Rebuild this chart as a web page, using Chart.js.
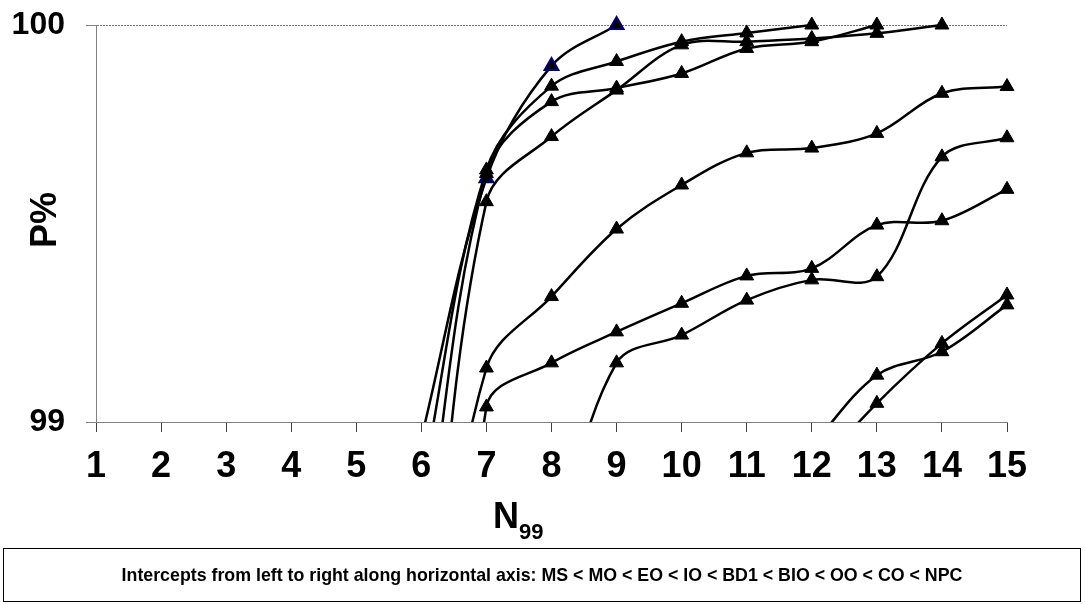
<!DOCTYPE html>
<html>
<head>
<meta charset="utf-8">
<script src="https://cdn.jsdelivr.net/npm/chart.js@4.4.1/dist/chart.umd.min.js"></script>
<style>
  body { margin: 0; background: #fff; }
  #wrap { position: relative; width: 1085px; height: 604px; }
  #note {
    position: absolute; left: 3px; top: 548px; width: 1078px; height: 54px;
    box-sizing: border-box; border: 1.5px solid #000;
    display: flex; align-items: center; justify-content: center;
    font: bold 17.8px Arial, "Liberation Sans", sans-serif; color: #000;
  }
</style>
</head>
<body>
<div id="wrap">
  <canvas id="chart" width="1085" height="604"></canvas>
  <div id="note">Intercepts from left to right along horizontal axis: MS &lt; MO &lt; EO &lt; IO &lt; BD1 &lt; BIO &lt; OO &lt; CO &lt; NPC</div>
</div>
<script>
// === Données (P% par N99) ===
const nLabels = ['1', '2', '3', '4', '5', '6', '7', '8', '9', '10', '11', '12', '13', '14', '15'];
const yTicks = [99, 100];

// points under 99 sit outside the plot; they only set where the curves cross the axis
const msVals  = [null, null, null, null, null, 98.96, 99.614, 99.897, 100, null, null, null, null, null, null];
const moVals  = [null, null, null, null, null, 98.83, 99.635, 99.846, 99.908, 99.958, 99.980, 100, null, null, null];
const eoVals  = [null, null, null, null, null, 98.6, 99.626, 99.807, 99.841, 99.878, 99.941, 99.958, 100, null, null];
const ioVals  = [null, null, null, null, null, 98.25, 99.555, 99.719, 99.836, 99.950, 99.958, 99.966, 99.979, 100, null];
const bd1Vals = [null, null, null, null, null, 98.2, 99.136, 99.316, 99.486, 99.597, 99.678, 99.690, 99.727, 99.828, 99.845];
const bioVals = [null, null, null, null, null, 97.1, 99.038, 99.149, 99.227, 99.299, 99.368, 99.387, 99.496, 99.507, 99.586];
const ooVals  = [null, null, null, null, null, null, null, 98.65, 99.149, 99.219, 99.307, 99.358, 99.366, 99.668, 99.716];
const coVals  = [null, null, null, null, null, null, null, null, null, null, null, 98.94, 99.118, 99.177, 99.295];
const npcVals = [null, null, null, null, null, null, null, null, null, null, null, 98.87, 99.047, 99.198, 99.320];

const seriesNames = ['MS', 'MO', 'EO', 'IO', 'BD1', 'BIO', 'OO', 'CO', 'NPC'];
const seriesVals = [msVals, moVals, eoVals, ioVals, bd1Vals, bioVals, ooVals, coVals, npcVals];

const FONT = 'Arial, "Liberation Sans", sans-serif';

// === Titres des axes (N avec indice 99, P% vertical) ===
const axisTitles = {
  id: 'axisTitles',
  afterDraw(chart) {
    const ctx = chart.ctx;
    ctx.save();
    ctx.fillStyle = '#000';
    ctx.font = 'bold 36px ' + FONT;
    ctx.textBaseline = 'middle';
    ctx.textAlign = 'center';
    ctx.translate(46, 220);
    ctx.rotate(-Math.PI / 2);
    ctx.fillText('P%', 0, 0);
    ctx.restore();

    ctx.save();
    ctx.fillStyle = '#000';
    ctx.textBaseline = 'alphabetic';
    ctx.textAlign = 'left';
    ctx.font = 'bold 36px ' + FONT;
    const nx = 493;
    ctx.fillText('N', nx, 528);
    const w = ctx.measureText('N').width;
    ctx.font = 'bold 22px ' + FONT;
    ctx.fillText('99', nx + w, 539);
    ctx.restore();
  }
};

const datasets = seriesVals.map((vals, i) => ({
  label: seriesNames[i],
  data: vals,
  borderColor: '#000',
  borderWidth: 2.5,
  tension: 0.35,
  fill: false,
  pointStyle: 'triangle',
  pointRadius: 8,
  pointBackgroundColor: '#000',
  pointBorderColor: i === 0 ? '#000080' : '#000',
  pointBorderWidth: i === 0 ? 2 : 1,
  clip: { left: 0, top: 12, right: 12, bottom: 0 },
  order: i === 0 ? 1 : 0
}));

new Chart(document.getElementById('chart'), {
  type: 'line',
  data: { labels: nLabels, datasets: datasets },
  options: {
    responsive: false,
    animation: false,
    devicePixelRatio: 1,
    layout: { padding: { top: 25, right: 78, left: 0, bottom: 0 } },
    plugins: { legend: { display: false }, tooltip: { enabled: false } },
    scales: {
      x: {
        type: 'category',
        offset: false,
        grid: { drawOnChartArea: false, tickLength: 10, tickColor: '#404040' },
        border: { color: '#808080', width: 1 },
        ticks: {
          color: '#000', padding: 13, autoSkip: false, maxRotation: 0,
          font: { family: FONT, size: 36, weight: 'bold' }
        },
        afterFit: (s) => { s.height = 182; }
      },
      y: {
        min: yTicks[0],
        max: yTicks[1],
        afterBuildTicks: (s) => { s.ticks = yTicks.map(v => ({ value: v })); },
        ticks: {
          color: '#000', padding: 21,
          font: { family: FONT, size: 32, weight: 'bold' }
        },
        grid: {
          color: (c) => (c.tick && c.tick.value === 100 ? '#777' : 'rgba(0,0,0,0)'),
          tickColor: '#808080',
          tickLength: 10
        },
        border: { color: '#808080', width: 1, dash: [2, 1] },
        afterFit: (s) => { s.width = 96; s.paddingTop = 0; s.paddingBottom = 0; }
      }
    }
  },
  plugins: [axisTitles]
});
</script>
</body>
</html>
